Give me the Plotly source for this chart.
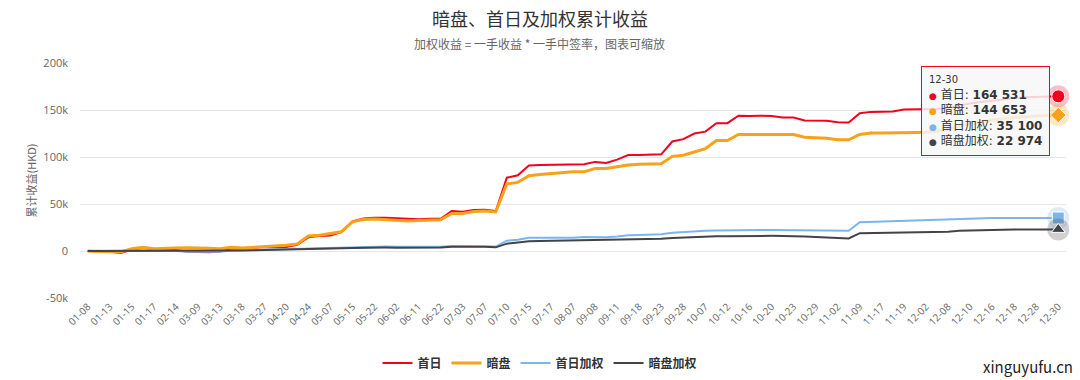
import plotly.graph_objects as go

dates = ["01-08","01-10","01-13","01-14","01-15","01-16","01-17","02-10","02-14","02-27",
         "03-09","03-10","03-13","03-16","03-18","03-23","03-27","04-13","04-20","04-21",
         "04-24","04-29","05-07","05-10","05-15","05-18","05-22","05-29","06-02","06-08",
         "06-11","06-17","06-22","06-29","07-03","07-06","07-07","07-08","07-10","07-14",
         "07-15","07-16","07-17","07-29","08-07","08-20","09-08","09-09","09-11","09-16",
         "09-18","09-21","09-23","09-25","09-28","09-30","10-07","10-09","10-12","10-14",
         "10-16","10-19","10-20","10-21","10-23","10-27","10-29","10-30","11-02","11-05",
         "11-09","11-13","11-17","11-18","11-19","11-27","12-02","12-04","12-08","12-09",
         "12-10","12-15","12-16","12-17","12-18","12-22","12-28","12-29","12-30"]

first_day = [0,-300,-800,-2200,1500,3200,2000,1800,1000,-800,
             -1000,-1200,-500,2500,2800,3500,4200,4000,4300,6500,
             14500,16000,16500,20000,31500,34500,35500,35500,35000,34000,
             33800,34300,34300,42500,41800,43500,44000,42500,78000,80500,
             91000,91500,91700,91500,92500,92300,94800,93700,97200,102000,
             102000,102800,102800,116500,119000,125000,127000,136000,136000,144000,
             143500,144000,143500,142000,142000,138800,138700,138500,137000,136600,
             146500,148000,148200,148300,150400,150500,150800,151000,152500,155000,
             157000,158500,160000,161500,162500,163500,164000,164300,164531]

grey_market = [0,-300,-500,-1000,2500,3900,2500,2500,3200,3500,
               3500,2800,2500,3900,3200,4000,4500,5000,6000,7500,
               16000,16700,18500,20500,31000,33500,34000,33500,33000,32000,
               32500,33000,33200,40000,40000,42000,42500,41500,71500,73000,
               80000,81500,82500,83000,84300,84200,87800,87800,89500,91600,
               92300,92700,92700,100700,101800,105300,108800,117600,117600,124000,
               124000,124600,124600,124000,124000,121000,120500,120000,118300,118300,
               124000,125500,125500,125400,125700,126000,126400,127500,129500,132500,
               135500,137500,139500,141000,142000,143000,144000,144400,144653]

first_day_w = [0,0,-200,-500,300,500,400,300,0,-800,
               -1000,-1000,-900,500,800,1200,1500,1700,1800,2200,
               3000,3300,3500,3800,4300,4600,4700,4700,4600,4500,
               4500,4600,4600,5300,5300,5500,5500,4700,11000,12000,
               14000,14000,14000,14000,14200,15000,14800,14700,15500,16800,
               17000,17500,17900,19300,20000,21400,21600,21800,22000,22500,
               22500,22400,22300,22200,22100,22000,22000,21700,21500,21500,
               30600,31000,31300,31500,32000,32400,32600,32800,33200,33800,
               34300,34700,35000,35000,35100,35100,35100,35100,35100]

grey_market_w = [0,0,0,-200,200,400,300,200,100,0,
                 0,100,100,500,600,700,900,1000,1100,1400,
                 2000,2200,2400,2800,3300,3600,3600,3600,3500,3500,
                 3500,3600,3600,4400,4500,4600,4600,3900,7800,9000,
                 10300,10600,10800,10900,11000,10800,11000,11200,11500,12300,
                 12500,12700,13000,13700,14300,15200,15400,15600,15800,16000,
                 16100,16100,16100,16000,16000,15500,15000,14200,13500,13400,
                 19000,19200,19400,19500,19600,19700,19800,20200,20600,21500,
                 21900,22200,22500,22700,22800,22900,22950,22970,22974]

y_ticks = [-50000, 0, 50000, 100000, 150000, 200000]
y_tick_text = ["-50k", "0", "50k", "100k", "150k", "200k"]

series = [
    ("首日", first_day, "#f2001d", 2, "circle"),
    ("暗盘", grey_market, "#f9a11b", 3, "diamond"),
    ("首日加权", first_day_w, "#7cb5ec", 2, "square"),
    ("暗盘加权", grey_market_w, "#434348", 2, "triangle-up"),
]
halo = {"#f2001d": "rgba(242,0,29,0.25)", "#f9a11b": "rgba(249,161,27,0.25)",
        "#7cb5ec": "rgba(124,181,236,0.25)", "#434348": "rgba(67,67,72,0.25)"}

FONT = "Noto Sans CJK SC, Noto Sans, sans-serif"
fig = go.Figure()
for name, vals, color, w, sym in series:
    fig.add_trace(go.Scatter(x=dates, y=vals, mode="lines", name=name,
                             line=dict(color=color, width=w)))
for name, vals, color, w, sym in series:
    fig.add_trace(go.Scatter(x=[dates[-1]], y=[vals[-1]], mode="markers", showlegend=False,
                             marker=dict(color=halo[color], size=22, symbol="circle"),
                             hoverinfo="skip", cliponaxis=False))
    fig.add_trace(go.Scatter(x=[dates[-1]], y=[vals[-1]], mode="markers", showlegend=False,
                             marker=dict(color=color, size=12 if sym != "circle" else 13,
                                         symbol=sym, line=dict(color="white", width=1)),
                             hoverinfo="skip", cliponaxis=False))

def fmt(v):
    return f"{v:,}".replace(",", " ")

tip = (f"<span style='font-size:10px'>{dates[-1]}</span><br>"
       + "<br>".join(f"<span style='color:{c};font-size:9px'>●</span> {n}: <b>{fmt(v[-1])}</b>"
                     for n, v, c, w, s in series))

fig.add_annotation(xref="paper", yref="paper", x=0.853, y=0.987, xanchor="left", yanchor="top",
                   text=tip, showarrow=False, align="left",
                   font=dict(family="DejaVu Sans, Noto Sans CJK SC, sans-serif", size=12,
                             color="#333333"),
                   bgcolor="rgba(247,247,247,0.85)", bordercolor="#f2001d", borderwidth=1,
                   borderpad=7)
fig.add_annotation(xref="paper", yref="paper", x=0.4665, y=1.081, xanchor="center", yanchor="middle",
                   text="加权收益 = 一手收益 * 一手中签率，图表可缩放", showarrow=False,
                   font=dict(family=FONT, size=12, color="#666666"))
fig.add_annotation(xref="paper", yref="paper", x=1.009, y=-0.29, xanchor="right", yanchor="middle",
                   text="xinguyufu.cn", showarrow=False,
                   font=dict(family=FONT, size=15, color="#222222"))

fig.update_layout(
    width=1080, height=380,
    margin=dict(l=80, r=14, t=63, b=82, autoexpand=False),
    paper_bgcolor="white", plot_bgcolor="white",
    title=dict(text="暗盘、首日及加权累计收益", x=0.5, xref="container", xanchor="center",
               y=0.947, yanchor="middle",
               font=dict(family=FONT, size=18, color="#333333")),
    font=dict(family=FONT, color="#666666"),
    showlegend=True,
    legend=dict(orientation="h", xref="container", x=0.5, xanchor="center", y=-0.277,
                yanchor="middle",
                font=dict(family=FONT, size=12, color="#333333", weight="bold"),
                itemwidth=30, tracegroupgap=0),
    xaxis=dict(type="category", range=[-0.7, 88.7], tickvals=dates[::2], ticktext=dates[::2],
               tickangle=-45, tickfont=dict(family="Open Sans, sans-serif", size=10, color="#666666"),
               showgrid=False, showline=False, ticks="", zeroline=False, automargin=False),
    yaxis=dict(range=[-50000, 200000], tickvals=y_ticks, ticktext=y_tick_text,
               tickfont=dict(family="Open Sans, sans-serif", size=11, color="#666666"),
               gridcolor="#e6e6e6", gridwidth=1, zeroline=False, showline=False,
               automargin=False, ticklabelstandoff=11,
               title=dict(text="累计收益(HKD)", font=dict(family=FONT, size=11, color="#666666"),
                          standoff=4)),
)

fig.write_html("out.html", config={"displayModeBar": False})

# remove the default 8px page margin so the figure sits at the window's top-left corner
with open("out.html", encoding="utf-8") as f:
    html = f.read()
html = html.replace("<head>", "<head><style>html,body{margin:0;padding:0;overflow:hidden;}</style>", 1)
with open("out.html", "w", encoding="utf-8") as f:
    f.write(html)
